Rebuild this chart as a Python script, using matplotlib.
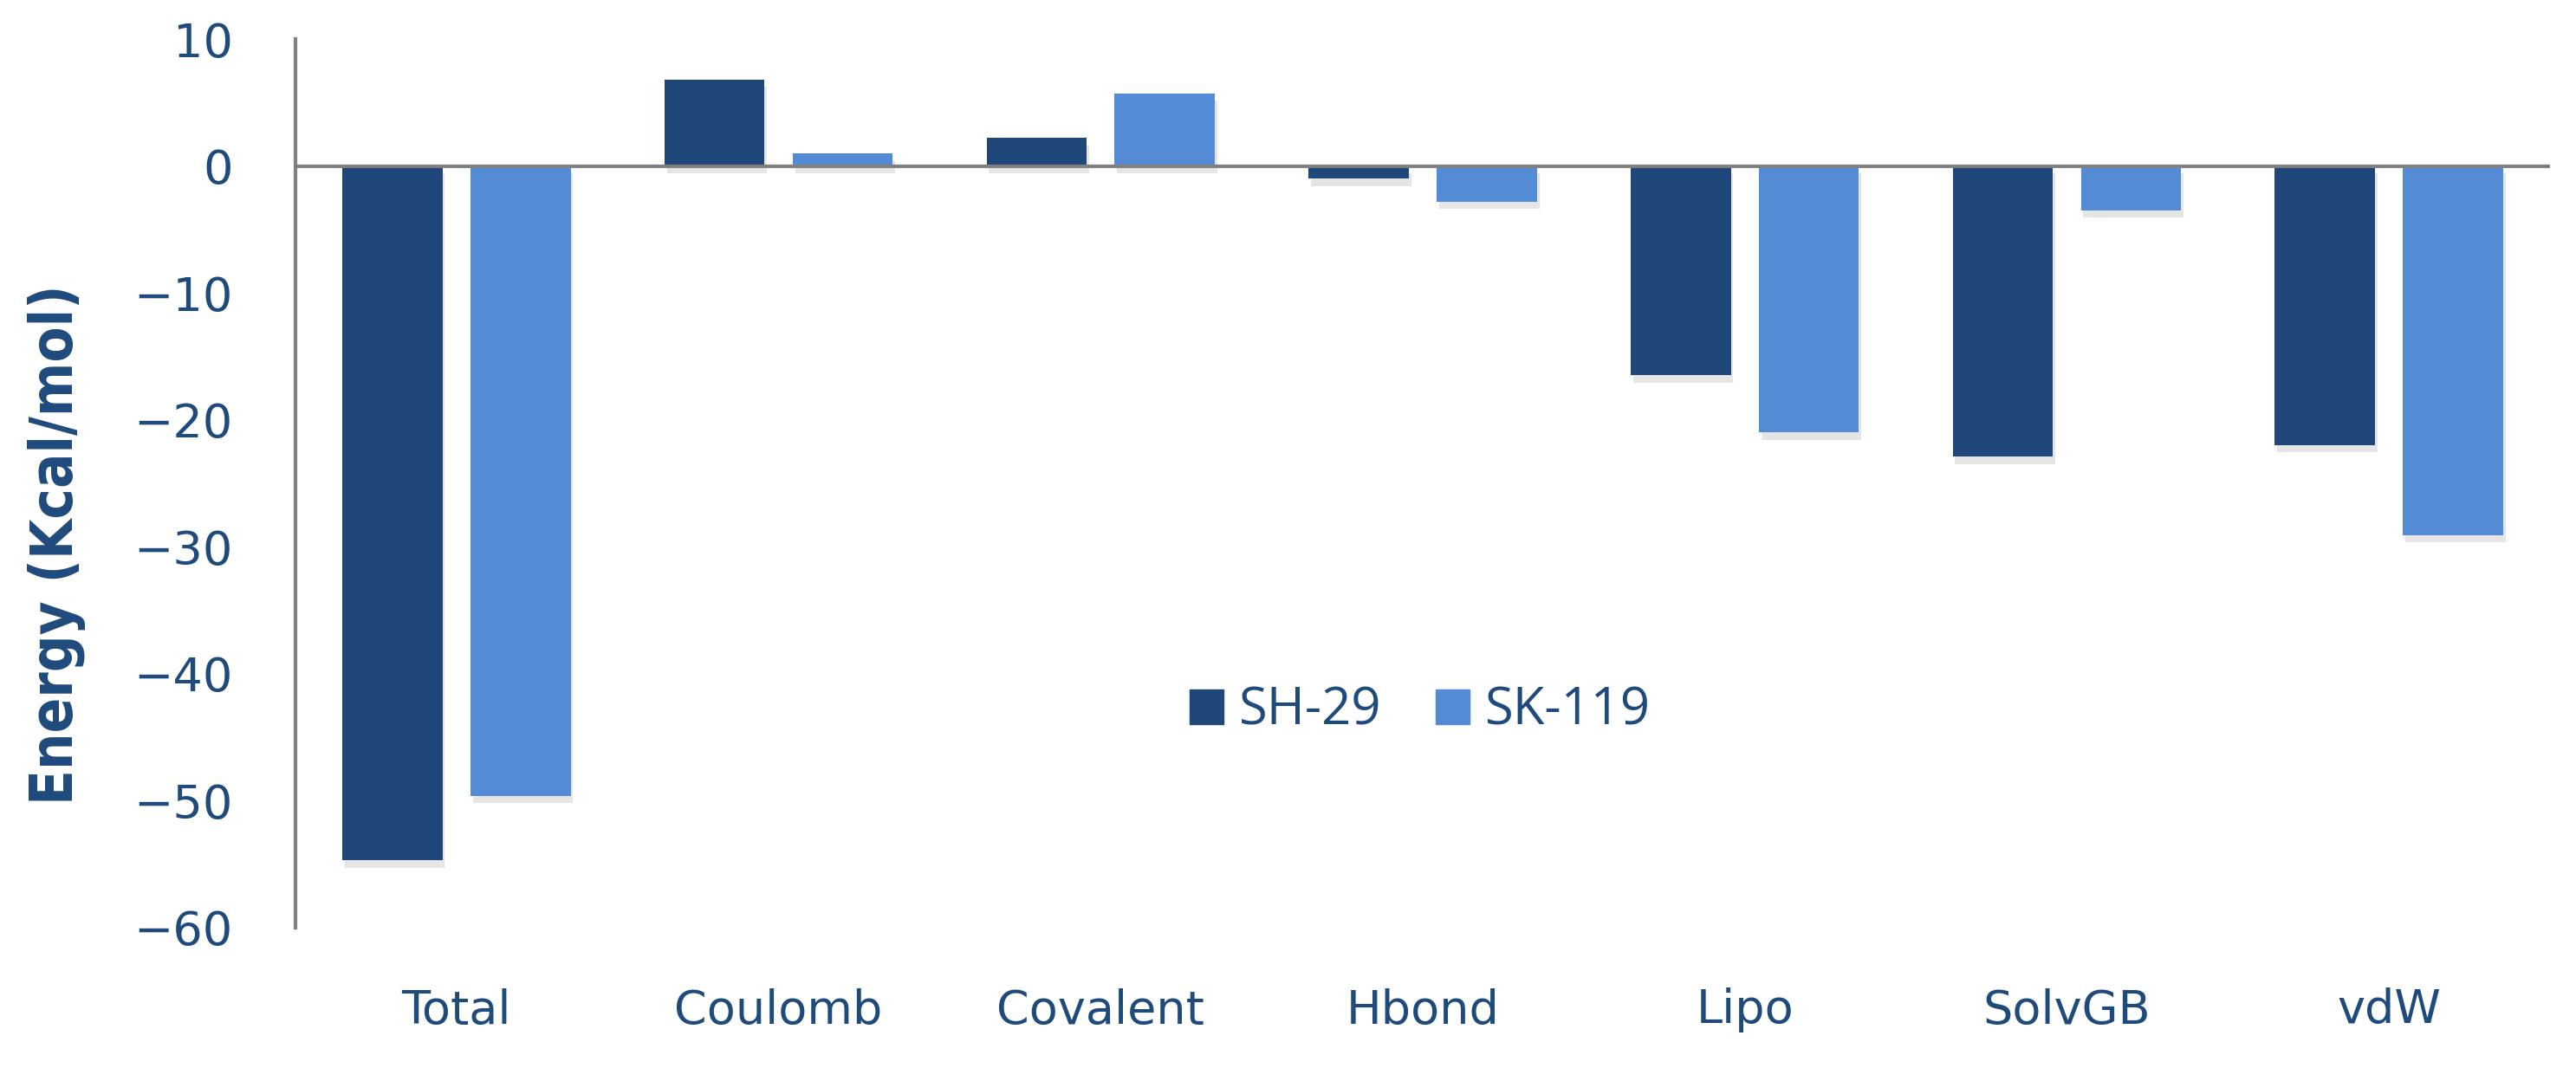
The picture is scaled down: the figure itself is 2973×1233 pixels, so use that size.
import numpy as np
import matplotlib
matplotlib.use("Agg")
import matplotlib.pyplot as plt
import matplotlib.patheffects as pe
from matplotlib.patches import Patch

# data
categories = ["Total", "Coulomb", "Covalent", "Hbond", "Lipo", "SolvGB", "vdW"]
sh29 = [-54.7, 6.8, 2.2, -1.0, -16.5, -22.9, -22.0]
sk119 = [-49.6, 1.0, 5.7, -2.8, -21.0, -3.5, -29.1]
series_names = ["SH-29", "SK-119"]
yticks = [10, 0, -10, -20, -30, -40, -50, -60]

dark = "#1F4779"
light = "#538CD5"
text_col = "#1F4A7C"
axis_col = "#808080"

fig = plt.figure(figsize=(29.73, 12.33), dpi=100)
ax = fig.add_axes([0.1147, 0.1314, 0.8752, 0.8321])

x = np.arange(len(categories))
off = 0.199
w = 0.311
shadow = [pe.SimplePatchShadow(offset=(2, -6), shadow_rgbFace="#aaaaaa", alpha=0.3), pe.Normal()]
b1 = ax.bar(x - off, sh29, w, color=dark, zorder=3)
b2 = ax.bar(x + off, sk119, w, color=light, zorder=3)
for b in list(b1) + list(b2):
    b.set_path_effects(shadow)

ax.axhline(0, color=axis_col, lw=3, zorder=4)

ax.set_xlim(-0.5, len(categories) - 0.5)
ax.set_ylim(-60, 10)
ax.set_yticks(yticks)
ax.set_yticklabels([str(v).replace("-", "\u2212") for v in yticks])
ax.set_xticks(x)
ax.set_xticklabels(categories)
ax.tick_params(axis="both", length=0, labelsize=39, colors=text_col)
ax.tick_params(axis="y", pad=52)
ax.tick_params(axis="x", pad=50)

for s in ["top", "right", "bottom"]:
    ax.spines[s].set_visible(False)
ax.spines["left"].set_color(axis_col)
ax.spines["left"].set_linewidth(3)

fig.text(0.022, 0.49, "Energy (Kcal/mol)", rotation=90, ha="center", va="center",
         fontsize=48, fontweight="bold", fontstretch="condensed", color=text_col,
         family="DejaVu Sans")

handles = [Patch(color=dark), Patch(color=light)]
leg = ax.legend(handles, series_names, loc="center", bbox_to_anchor=(0.499, 0.244),
                ncol=2, frameon=False, handlelength=0.65, handleheight=0.65,
                handletextpad=0.3, columnspacing=1.05,
                prop={"family": "Open Sans", "size": 43})
for t in leg.get_texts():
    t.set_color(text_col)

fig.savefig("out.png", dpi=100)
